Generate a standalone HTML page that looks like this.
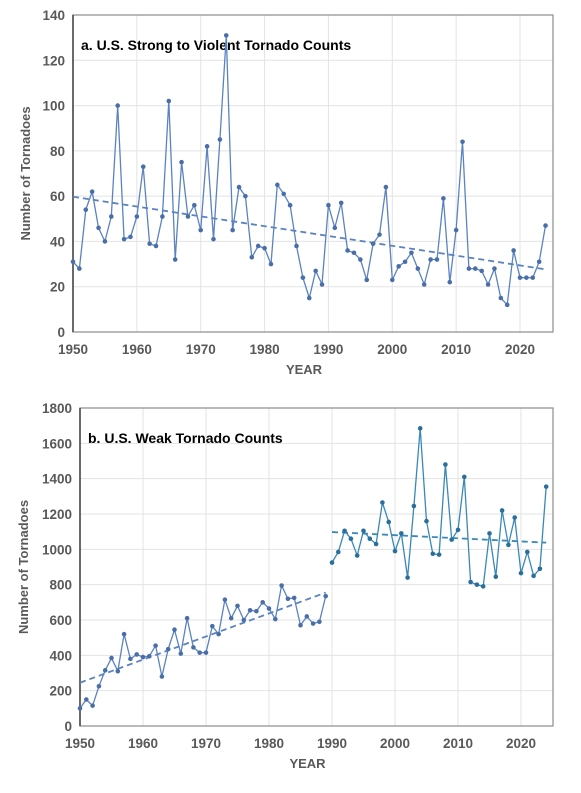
<!DOCTYPE html>
<html><head><meta charset="utf-8"><style>
html,body{margin:0;padding:0;background:#fff;}
svg text{font-family:"Liberation Sans",Arial,sans-serif;}
</style></head><body>
<svg id="chart" width="581" height="788" viewBox="0 0 581 788" xmlns="http://www.w3.org/2000/svg"></svg>
<script>
const years = Array.from({length:75},(_,i)=>1950+i);
const strongCounts = [31,28,54,62,46,40,51,100,41,42,51,73,39,38,51,102,32,75,51,56,45,82,41,85,131,45,64,60,33,38,37,30,65,61,56,38,24,15,27,21,56,46,57,36,35,32,23,39,43,64,23,29,31,35,28,21,32,32,59,22,45,84,28,28,27,21,28,15,12,36,24,24,24,31,47];
const weakEarly = [100,150,115,225,315,385,310,520,380,405,390,395,455,280,435,545,410,610,445,415,415,565,520,715,610,680,600,655,650,700,665,605,795,720,725,570,620,580,590,735];
const weakLate = [925,985,1105,1060,965,1105,1060,1030,1265,1155,990,1090,840,1245,1685,1160,975,970,1480,1055,1110,1410,815,800,790,1090,845,1220,1025,1180,865,985,850,890,1355];
const xTicks = [1950,1960,1970,1980,1990,2000,2010,2020];
const yTicksA = [0,20,40,60,80,100,120,140];
const yTicksB = [0,200,400,600,800,1000,1200,1400,1600,1800];

const NS="http://www.w3.org/2000/svg";
const svg=document.getElementById('chart');
function mk(tag,attrs,parent){const e=document.createElementNS(NS,tag);for(const k in attrs)e.setAttribute(k,attrs[k]);(parent||svg).appendChild(e);return e;}
function fit(xs,ys){const n=xs.length;let mx=0,my=0;for(let i=0;i<n;i++){mx+=xs[i];my+=ys[i];}mx/=n;my/=n;let sxy=0,sxx=0;for(let i=0;i<n;i++){sxy+=(xs[i]-mx)*(ys[i]-my);sxx+=(xs[i]-mx)**2;}const b=sxy/sxx;return x=>my+b*(x-mx);}

function panel(cfg){
  const {L,R,T,B,ymax,yticks,title,name}=cfg;
  const g=mk('g',{});
  
  
  const xs=y=>L+(y-1950)*(cfg.x2020-L)/70;
  const ys=v=>B-v*(B-T)/ymax;
  yticks.forEach(t=>{
    const l=mk('line',{x1:L,x2:R,y1:ys(t),y2:ys(t),stroke:'#e3e3e3','stroke-width':1},g);
    
    
    const tx=mk('text',{x:L-8,y:ys(t)+5,'text-anchor':'end','font-size':13.5,'font-weight':'bold',fill:'#595959'},g);
    tx.textContent=t;
    
    
  });
  xTicks.forEach(t=>{
    const l=mk('line',{x1:xs(t),x2:xs(t),y1:T,y2:B,stroke:'#e3e3e3','stroke-width':1},g);
    
    
    const tx=mk('text',{x:xs(t),y:B+22,'text-anchor':'middle','font-size':13.5,'font-weight':'bold',fill:'#595959'},g);
    tx.textContent=t;
    
    
  });
  const fr=mk('rect',{x:L,y:T,width:R-L,height:B-T,fill:'none',stroke:'#8c8c8c','stroke-width':1.2},g);
  
  
  const ax=mk('line',{x1:L,x2:L,y1:T,y2:B,stroke:'#404040','stroke-width':1.5},g);
  
  
  const tt=mk('text',{x:L+8,y:T+35,'font-size':14,'font-weight':'bold',fill:'#000'},g);
  tt.textContent=title;
  
  
  const yl=mk('text',{transform:`translate(${cfg.ytx},${(T+B)/2}) rotate(-90)`,'text-anchor':'middle','font-size':13,'font-weight':'bold',fill:'#595959'},g);
  yl.textContent='Number of Tornadoes';
  
  
  const xl=mk('text',{x:(L+R)/2-9,y:B+42,'text-anchor':'middle','font-size':13,'font-weight':'bold',fill:'#595959'},g);
  xl.textContent='YEAR';
  
  
  cfg.series.forEach(s=>{
    const yrs=s.data.map((_,i)=>s.start+i);
    const f=fit(yrs,s.data);
    const tl=mk('line',{x1:xs(yrs[0]),y1:ys(f(yrs[0])),x2:xs(yrs[yrs.length-1]),y2:ys(f(yrs[yrs.length-1])),stroke:s.color,'stroke-width':1.8,'stroke-dasharray':'6,4'},g);
    
    
    const pts=s.data.map((v,i)=>xs(yrs[i]).toFixed(1)+','+ys(v).toFixed(1)).join(' ');
    const pl=mk('polyline',{points:pts,fill:'none',stroke:s.color,'stroke-width':1.3},g);
    
    
    s.data.forEach((v,i)=>{
      const c=mk('circle',{cx:xs(yrs[i]),cy:ys(v),r:2.3,fill:s.dot},g);
      
      
    });
  });
}
panel({L:73,R:553,T:15,B:332,x2020:520,ymax:140,yticks:yTicksA,ytx:30,title:'a. U.S. Strong to Violent Tornado Counts',name:'panel-a-strong',
  series:[{data:strongCounts,start:1950,color:'#5b83c0',dot:'#4a6fa8'}]});
panel({L:80,R:553,T:408,B:726,x2020:521,ymax:1800,yticks:yTicksB,ytx:28,title:'b. U.S. Weak Tornado Counts',name:'panel-b-weak',
  series:[{data:weakEarly,start:1950,color:'#5b83c0',dot:'#4a6fa8'},{data:weakLate,start:1990,color:'#3a88b8',dot:'#2a6f9c'}]});
</script>
</body></html>
